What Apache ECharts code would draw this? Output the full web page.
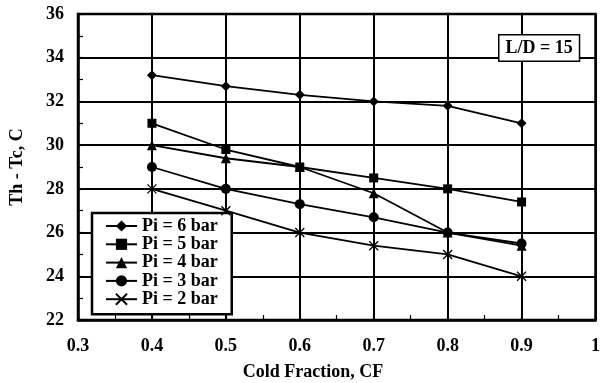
<!DOCTYPE html>
<html><head><meta charset="utf-8">
<script src="https://cdn.jsdelivr.net/npm/echarts@6/dist/echarts.min.js"></script>
<style>html,body{margin:0;padding:0;background:#fff}#c{width:603px;height:383px}</style>
</head><body><div id="c"></div>
<script>
const coldFraction = [0.4, 0.5, 0.6, 0.7, 0.8, 0.9];
const pi6 = [33.2, 32.7, 32.3, 32.0, 31.8, 31.0];
const pi5 = [31.0, 29.8, 29.0, 28.5, 28.0, 27.4];
const pi4 = [30.0, 29.4, 29.0, 27.8, 26.0, 25.4];
const pi3 = [29.0, 28.0, 27.3, 26.7, 26.0, 25.5];
const pi2 = [28.0, 27.0, 26.0, 25.4, 25.0, 24.0];
const seriesNames = ['Pi = 6 bar', 'Pi = 5 bar', 'Pi = 4 bar', 'Pi = 3 bar', 'Pi = 2 bar'];
const seriesValues = [pi6, pi5, pi4, pi3, pi2];
const symbols = ['diamond', 'rect', 'triangle', 'circle', 'path://M0,0L10,10M10,0L0,10'];
const symbolSizes = [10, 9, 10, 10, 9];

const font = '"Liberation Serif", "Times New Roman", serif';
const chart = echarts.init(document.getElementById('c'));
const series = seriesValues.map((vals, i) => ({
  name: seriesNames[i],
  type: 'line',
  data: coldFraction.map((x, j) => [x, vals[j]]),
  symbol: symbols[i],
  symbolSize: symbolSizes[i],
  showAllSymbol: true,
  lineStyle: { color: '#000', width: 1.8 },
  itemStyle: i === 4 ? { color: '#fff', borderColor: '#000', borderWidth: 1.3 } : { color: '#000', borderColor: '#000', borderWidth: 0 },
  emphasis: { disabled: true },
  z: 10 - i
}));
chart.setOption({
  animation: false,
  backgroundColor: '#fff',
  grid: { left: 77, right: 4, top: 14, bottom: 63, show: true, borderColor: '#000', borderWidth: 2.5, backgroundColor: 'transparent' },
  xAxis: {
    type: 'value', min: 0.3, max: 1.0, interval: 0.1,
    axisLine: { show: true, lineStyle: { color: '#000', width: 2.5 } },
    axisTick: { show: true, inside: true, length: 5, lineStyle: { color: '#000', width: 1.2 } },
    minorTick: { show: true, splitNumber: 2, length: 5, lineStyle: { color: '#000', width: 1.2 } },
    splitLine: { show: true, lineStyle: { color: '#000', width: 2 } },
    axisLabel: { margin: 17, fontFamily: font, fontWeight: 'bold', fontSize: 18, color: '#000',
      formatter: v => String(Math.round(v * 10) / 10) }
  },
  yAxis: {
    type: 'value', min: 22, max: 36, interval: 2,
    name: 'Th - Tc, C', nameLocation: 'middle', nameGap: 52,
    nameTextStyle: { fontFamily: font, fontWeight: 'bold', fontSize: 18, color: '#000' },
    axisLine: { show: true, lineStyle: { color: '#000', width: 2.5 } },
    axisTick: { show: true, inside: true, length: 5, lineStyle: { color: '#000', width: 1.2 } },
    minorTick: { show: true, splitNumber: 2, length: 5, lineStyle: { color: '#000', width: 1.2 } },
    splitLine: { show: true, lineStyle: { color: '#000', width: 2 } },
    axisLabel: { margin: 14, fontFamily: font, fontWeight: 'bold', fontSize: 18, color: '#000' }
  },
  legend: {
    orient: 'vertical', left: 92, top: 213,
    backgroundColor: '#fff', borderColor: '#000', borderWidth: 2.5,
    padding: [4, 14, 6, 13], itemGap: 0.3, itemWidth: 31, itemHeight: 14,
    textStyle: { fontFamily: font, fontWeight: 'bold', fontSize: 18, color: '#000' },
    data: seriesNames
  },
  graphic: [{
    type: 'text', left: 498, top: 34, z: 100,
    style: { text: 'L/D = 15', font: 'bold 18px ' + font, fill: '#000',
      backgroundColor: '#fff', borderColor: '#000', borderWidth: 1.5, padding: [4, 6, 3, 6] }
  }, {
    type: 'text', x: 313, y: 372, z: 100,
    style: { text: 'Cold Fraction, CF', font: 'bold 18px ' + font, fill: '#000', align: 'center', verticalAlign: 'middle' }
  }],
  series: series
});
</script></body></html>
